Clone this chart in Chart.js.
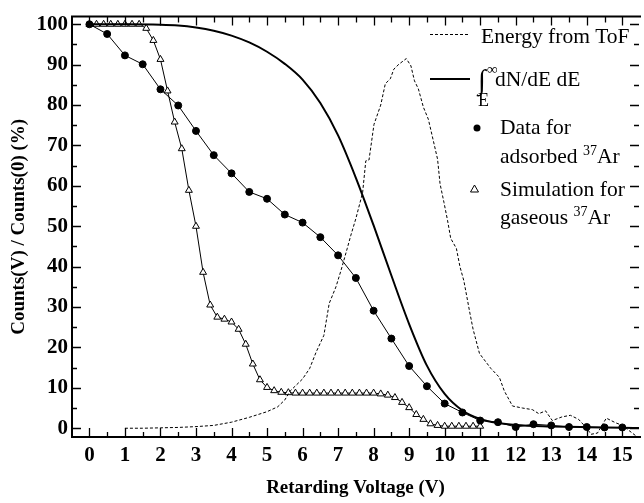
<!DOCTYPE html>
<html>
<head>
<meta charset="utf-8">
<script src="https://cdn.jsdelivr.net/npm/chart.js@4.4.1/dist/chart.umd.min.js"></script>
<style>
  html, body { margin: 0; padding: 0; background: #fff; }
</style>
</head>
<body>
<canvas id="chart" width="644" height="503"></canvas>
<script>
// measured data for adsorbed 37Ar (circles)
const dataX = [0, 0.5, 1, 1.5, 2, 2.5, 3, 3.5, 4, 4.5, 5, 5.5, 6, 6.5, 7, 7.5, 8, 8.5, 9, 9.5, 10, 10.5, 11, 11.5, 12, 12.5, 13, 13.5, 14, 14.5, 15];
const dataY = [100, 97.6, 92.3, 90.1, 83.9, 79.9, 73.6, 67.6, 63.1, 58.5, 56.8, 52.9, 50.9, 47.3, 42.8, 37.2, 29.1, 22.2, 15.4, 10.4, 6.1, 3.9, 1.9, 1.5, 0.3, 1.0, 0.7, 0.3, 0.3, 0.2, 0.2];

// simulation for gaseous 37Ar (triangles)
const simX = [0, 0.2, 0.4, 0.6, 0.8, 1.0, 1.2, 1.4, 1.6, 1.8, 2.0, 2.2, 2.4, 2.6, 2.8, 3.0, 3.2, 3.4, 3.6, 3.8, 4.0, 4.2, 4.4, 4.6, 4.8, 5.0, 5.2, 5.4, 5.6, 5.8, 6.0, 6.2, 6.4, 6.6, 6.8, 7.0, 7.2, 7.4, 7.6, 7.8, 8.0, 8.2, 8.4, 8.6, 8.8, 9.0, 9.2, 9.4, 9.6, 9.8, 10.0, 10.2, 10.4, 10.6, 10.8, 11.0];
const simY = [100, 100, 100, 100, 100, 100, 100, 100, 99, 96, 91.3, 83.5, 75.8, 69.2, 58.9, 50, 38.6, 30.5, 27.5, 27.0, 26.3, 24.5, 20.8, 15.9, 12.0, 10.1, 9.3, 8.9, 8.8, 8.7, 8.7, 8.7, 8.7, 8.7, 8.7, 8.7, 8.7, 8.7, 8.7, 8.7, 8.7, 8.5, 8.2, 7.6, 6.4, 5.1, 3.4, 2.2, 1.1, 0.7, 0.5, 0.5, 0.5, 0.5, 0.5, 0.5];

// integral of dN/dE (solid curve)
const intX = [0, 1, 2, 2.5, 3, 3.5, 4, 4.5, 5, 5.5, 6, 6.5, 7, 7.5, 8, 8.5, 9, 9.5, 10, 10.5, 11, 11.5, 12, 13, 14, 15, 15.5];
const intY = [100, 100, 99.9, 99.7, 99.2, 98.4, 97.2, 95.5, 93.2, 90.2, 86.3, 80.5, 72.5, 62.0, 50.2, 37.8, 25.8, 15.5, 8.5, 4.4, 2.3, 1.3, 0.8, 0.45, 0.25, 0.1, 0.05];

// energy from time of flight (dashed curve)
const tofX = [1.0, 1.5, 2.0, 2.5, 3.0, 3.5, 4.0, 4.5, 5.0, 5.3, 5.5, 5.65, 6.0, 6.2, 6.38, 6.6, 6.75, 6.94, 7.08, 7.26, 7.36, 7.5, 7.69, 7.78, 7.87, 8.01, 8.2, 8.33, 8.47, 8.57, 8.71, 8.92, 9.05, 9.15, 9.26, 9.4, 9.54, 9.68, 9.8, 9.87, 9.98, 10.08, 10.17, 10.33, 10.43, 10.54, 10.71, 10.8, 10.98, 11.3, 11.54, 11.68, 11.91, 12.19, 12.47, 12.65, 12.84, 13.03, 13.3, 13.54, 13.77, 14.0, 14.12, 14.3, 14.55, 14.8, 15.0, 15.4];
const tofY = [0, 0, 0.1, 0.2, 0.4, 0.7, 1.5, 2.7, 4.1, 5.3, 7.0, 9.2, 12.2, 14.8, 18.8, 23, 30.9, 35, 39, 44.6, 47.8, 51.9, 58.3, 66.2, 66.4, 75.2, 80, 85.3, 86.5, 88.9, 90.1, 91.5, 89.7, 86, 84, 79.5, 76.5, 71.2, 66.6, 60.5, 55.9, 51.5, 47, 44.5, 40, 36.5, 28.5, 24.5, 18.5, 14.8, 12.6, 9.2, 5.5, 5.0, 4.6, 3.6, 4.3, 1.9, 2.8, 3.2, 2.2, 0, -1.5, -1.2, 2.5, 1.4, 0.7, -2.0];

const xTicks = [0, 1, 2, 3, 4, 5, 6, 7, 8, 9, 10, 11, 12, 13, 14, 15];
const yTicks = [0, 10, 20, 30, 40, 50, 60, 70, 80, 90, 100];

function pts(xs, ys) {
  return xs.map((x, i) => ({ x: x, y: ys[i] }));
}

const serif = '"Liberation Serif", "DejaVu Serif", serif';

// frame, inward ticks and the hand-laid legend
const framePlugin = {
  id: 'frame',
  afterDraw(chart) {
    const ctx = chart.ctx;
    const a = chart.chartArea;
    const xs = chart.scales.x, ys = chart.scales.y;
    ctx.save();
    ctx.strokeStyle = '#000';
    ctx.lineWidth = 2;
    ctx.beginPath();
    ctx.moveTo(a.right + 2, a.top); ctx.lineTo(a.left, a.top);
    ctx.lineTo(a.left, a.bottom); ctx.lineTo(a.right + 2, a.bottom);
    ctx.stroke();

    ctx.lineWidth = 1.3;
    ctx.beginPath();
    for (let v = 0; v <= 15; v += 0.5) {
      const px = Math.round(xs.getPixelForValue(v)) + 0.5;
      const major = v % 1 === 0;
      ctx.moveTo(px, a.bottom); ctx.lineTo(px, a.bottom - (major ? 9 : 5));
      ctx.moveTo(px, a.top); ctx.lineTo(px, a.top + (major ? 9 : 6));
    }
    for (let v = 0; v <= 100; v += 5) {
      const py = Math.round(ys.getPixelForValue(v)) + 0.5;
      const major = v % 10 === 0;
      ctx.moveTo(a.left, py); ctx.lineTo(a.left + (major ? 9 : 5), py);
      ctx.moveTo(a.right, py); ctx.lineTo(a.right - (major ? 9 : 5), py);
    }
    ctx.stroke();

    // legend
    const f = '21.5px ' + serif;
    ctx.fillStyle = '#000';
    ctx.textBaseline = 'middle';
    ctx.textAlign = 'left';
    ctx.font = f;

    ctx.lineWidth = 1;
    ctx.setLineDash([3, 2]);
    ctx.beginPath(); ctx.moveTo(430, 34.5); ctx.lineTo(468, 34.5); ctx.stroke();
    ctx.setLineDash([]);
    ctx.fillText('Energy from ToF', 481, 37);

    ctx.lineWidth = 2;
    ctx.beginPath(); ctx.moveTo(430, 79); ctx.lineTo(470, 79); ctx.stroke();
    ctx.font = '28px ' + serif;
    ctx.fillText('\u222B', 478, 82);
    ctx.font = '15px ' + serif;
    ctx.fillText('\u221E', 487, 70);
    ctx.font = '18px ' + serif;
    ctx.fillText('E', 478, 101);
    ctx.font = f;
    ctx.fillText('dN/dE dE', 495, 80);

    ctx.beginPath(); ctx.arc(477, 128, 3.5, 0, Math.PI * 2); ctx.fill();
    ctx.fillText('Data for', 500, 128);
    let w = ctx.measureText('adsorbed ').width;
    ctx.fillText('adsorbed ', 500, 157);
    ctx.font = '14px ' + serif;
    ctx.fillText('37', 500 + w, 151);
    let w2 = ctx.measureText('37').width;
    ctx.font = f;
    ctx.fillText('Ar', 500 + w + w2, 157);

    ctx.lineWidth = 1;
    ctx.beginPath();
    ctx.moveTo(474.5, 185); ctx.lineTo(478.5, 192); ctx.lineTo(470.5, 192); ctx.closePath();
    ctx.stroke();
    ctx.fillText('Simulation for', 500, 190);
    w = ctx.measureText('gaseous ').width;
    ctx.fillText('gaseous ', 500, 218);
    ctx.font = '14px ' + serif;
    ctx.fillText('37', 500 + w, 212);
    w2 = ctx.measureText('37').width;
    ctx.font = f;
    ctx.fillText('Ar', 500 + w + w2, 218);

    ctx.restore();
  }
};

new Chart(document.getElementById('chart'), {
  type: 'scatter',
  data: {
    datasets: [
      {
        label: 'Energy from ToF',
        data: pts(tofX, tofY),
        showLine: true,
        borderColor: '#000',
        borderWidth: 1,
        borderDash: [3, 2],
        pointRadius: 0,
        tension: 0
      },
      {
        label: 'Integral dN/dE dE',
        data: pts(intX, intY),
        showLine: true,
        borderColor: '#000',
        borderWidth: 2,
        pointRadius: 0,
        cubicInterpolationMode: 'monotone'
      },
      {
        label: 'Data for adsorbed 37Ar',
        data: pts(dataX, dataY),
        showLine: true,
        borderColor: '#000',
        borderWidth: 1,
        backgroundColor: '#000',
        pointRadius: 3.5,
        pointStyle: 'circle',
        tension: 0
      },
      {
        label: 'Simulation for gaseous 37Ar',
        data: pts(simX, simY),
        showLine: true,
        borderColor: '#000',
        borderWidth: 1,
        backgroundColor: '#fff',
        pointBorderColor: '#000',
        pointBorderWidth: 1,
        pointRadius: 4,
        pointStyle: 'triangle',
        tension: 0
      }
    ]
  },
  options: {
    responsive: false,
    animation: false,
    layout: { padding: { top: 6, right: 0, left: 0, bottom: 0 } },
    plugins: {
      legend: { display: false },
      tooltip: { enabled: false }
    },
    scales: {
      x: {
        type: 'linear',
        min: -0.49,
        max: 15.47,
        afterFit: function (scale) { scale.height = 66; },
        afterBuildTicks: function (scale) { scale.ticks = xTicks.map(v => ({ value: v })); },
        grid: { display: false, drawTicks: false },
        border: { display: false },
        ticks: {
          color: '#000',
          padding: 6,
          maxRotation: 0,
          font: { family: serif, size: 21, weight: 'bold' }
        },
        title: {
          display: true,
          text: 'Retarding Voltage (V)',
          color: '#000',
          padding: { top: 0, bottom: 4 },
          font: { family: serif, size: 19, weight: 'bold' }
        }
      },
      y: {
        type: 'linear',
        min: -2.17,
        max: 101.9,
        afterFit: function (scale) { scale.width = 72; },
        afterBuildTicks: function (scale) { scale.ticks = yTicks.map(v => ({ value: v })); },
        grid: { display: false, drawTicks: false },
        border: { display: false },
        ticks: {
          color: '#000',
          padding: 4,
          font: { family: serif, size: 21, weight: 'bold' }
        },
        title: {
          display: true,
          text: 'Counts(V) / Counts(0) (%)',
          color: '#000',
          padding: { top: 8, bottom: 0 },
          font: { family: serif, size: 19, weight: 'bold' }
        }
      }
    }
  },
  plugins: [framePlugin]
});
</script>
</body>
</html>
